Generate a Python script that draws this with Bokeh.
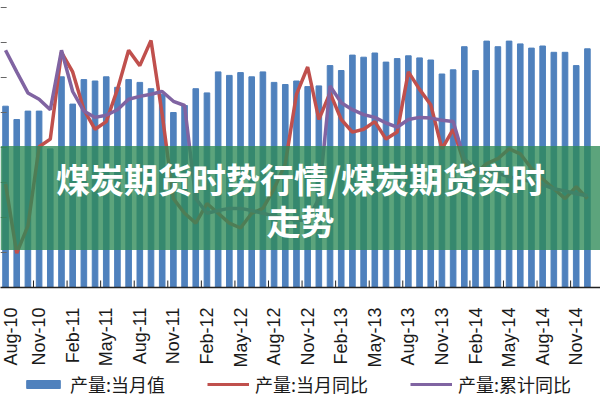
import math
from bokeh.plotting import figure
from bokeh.layouts import column
from bokeh.models import (Range1d, FixedTicker, Legend, LegendItem,
                          BoxAnnotation, Label)
from bokeh.embed import file_html
from bokeh.resources import INLINE

months = ["Aug-10", "Sep-10", "Oct-10", "Nov-10", "Dec-10",
          "Jan-11", "Feb-11", "Mar-11", "Apr-11", "May-11", "Jun-11",
          "Jul-11", "Aug-11", "Sep-11", "Oct-11", "Nov-11", "Dec-11",
          "Jan-12", "Feb-12", "Mar-12", "Apr-12", "May-12", "Jun-12",
          "Jul-12", "Aug-12", "Sep-12", "Oct-12", "Nov-12", "Dec-12",
          "Jan-13", "Feb-13", "Mar-13", "Apr-13", "May-13", "Jun-13",
          "Jul-13", "Aug-13", "Sep-13", "Oct-13", "Nov-13", "Dec-13",
          "Jan-14", "Feb-14", "Mar-14", "Apr-14", "May-14", "Jun-14",
          "Jul-14", "Aug-14", "Sep-14", "Oct-14", "Nov-14", "Dec-14"]

# 产量:当月值 (万吨)
output_month = [25900, 24000, 25200, 25200, 19800, 30100, 26200, 29700, 29500, 30100,
                28600, 29700, 29300, 28400, 27600, 25000, 26000, 28400, 27800, 30800,
                30300, 30700, 30100, 30800, 29300, 29000, 29500, 28700, 28800, 31700,
                31000, 33200, 32900, 33500, 32200, 32700, 33100, 32800, 32500, 30500,
                31100, 34400, 31000, 35200, 34400, 35200, 34800, 34200, 34500, 33600,
                33600, 31700, 34100]

# 产量:当月同比 (%)
yoy_month = [-5.2, -15.1, -11.2, 0.1, 1.2, 13.6, 10.8, 5.4, 2.6, 3.7,
             8.3, 13.9, 11.7, 15.3, 4.7, -7.3, -9.4, -10.8, -8.0, -9.4,
             -10.8, -11.5, -9.4, -8.7, -5.9, -2.3, 7.6, 11.5, 4.0, 7.8,
             4.0, 2.2, 2.6, 3.7, 1.2, 2.2, 10.8, 8.3, 6.1, -0.2,
             2.6, -2.3, -3.7, -2.3, -1.6, -0.2, -0.9, -3.0, -4.5, -5.9,
             -7.3, -5.6, -7.3]

# 产量:累计同比 (%)
yoy_cum = [13.9, 10.8, 7.8, 6.9, 5.4, 13.9, 8.0, 5.2, 4.3, 4.6,
           5.4, 6.9, 7.3, 7.6, 8.0, 6.6, 6.0, -7.3, -9.4, -9.0,
           -8.7, -8.7, -9.0, -9.4, -9.8, -10.1, -10.4, -10.4, -7.3, 8.8,
           6.4, 5.4, 4.7, 4.3, 3.5, 2.9, 4.0, 4.3, 4.2, 3.9,
           3.7, -1.6, -3.0, -3.3, -3.7, -4.2, -4.5, -4.9, -5.3, -5.9,
           -6.2, -6.6, -6.9]

# left-axis tick values (labels cropped away in the reference)
y_ticks = [0, 5000, 10000, 15000, 20000, 25000, 30000, 35000, 40000]

series_names = ["产量:当月值", "产量:当月同比", "产量:累计同比"]
title_lines = ["煤炭期货时势行情/煤炭期货实时", "走势"]
colors = ["#4F81BD", "#C0504D", "#8064A2"]

x = list(range(len(months)))
label_ticks = list(range(0, len(months), 3))

X0, X1 = -0.45, 53.17

# ---- main chart ----
p = figure(width=600, height=370,
           x_range=Range1d(X0, X1),
           y_range=Range1d(0, 41000),
           output_backend="svg", toolbar_location=None,
           min_border_left=0, min_border_right=0,
           min_border_top=0, min_border_bottom=80)
p.extra_y_ranges = {"pct": Range1d(-20, 21)}
p.outline_line_color = None
p.xgrid.grid_line_color = None
p.ygrid.grid_line_color = None
p.background_fill_color = "white"
p.border_fill_color = "white"

p.vbar(x=x, top=output_month, width=0.5, color=colors[0])
p.line(x, yoy_month, y_range_name="pct", line_color=colors[1], line_width=3.5)
p.line(x, yoy_cum, y_range_name="pct", line_color=colors[2], line_width=3.5)

# category-boundary tick marks on the x axis
bx = [t - 0.5 for t in label_ticks if t > 0]
p.segment(x0=bx, y0=[0] * len(bx), x1=bx, y1=[1000] * len(bx),
          line_color="#222222", line_width=1)
# left-edge value tick marks
p.segment(x0=[X0] * len(y_ticks), y0=y_ticks, x1=[X0 + 0.55] * len(y_ticks), y1=y_ticks,
          line_color="#666666", line_width=1)

# x axis
p.xaxis.ticker = FixedTicker(ticks=label_ticks)
p.xaxis.major_label_overrides = {t: months[t] for t in label_ticks}
p.xaxis.major_label_orientation = math.pi / 2
p.xaxis.major_tick_line_color = None
p.xaxis.major_tick_out = 0
p.xaxis.major_tick_in = 0
p.xaxis.minor_tick_line_color = None
p.xaxis.major_label_standoff = 20
p.xaxis.major_label_text_font = "Liberation Sans"
p.xaxis.major_label_text_font_size = "18px"
p.xaxis.major_label_text_color = "#1a1a1a"
p.xaxis.axis_line_color = "#222222"
p.xaxis.axis_line_width = 1.5

p.yaxis.visible = False

# overlay banner
p.add_layout(BoxAnnotation(bottom=5370, top=20220, fill_color="#2E8B57",
                           fill_alpha=0.78, line_color=None))
p.add_layout(Label(x=26.36, y=15550, text=title_lines[0], text_align="center",
                   text_baseline="middle", text_color="white",
                   text_font="Noto Sans CJK SC", text_font_style="bold",
                   text_font_size="34px"))
p.add_layout(Label(x=26.36, y=9610, text=title_lines[1], text_align="center",
                   text_baseline="middle", text_color="white",
                   text_font="Noto Sans CJK SC", text_font_style="bold",
                   text_font_size="34px"))

# ---- legend strip ----
lg = figure(width=600, height=30, x_range=Range1d(0, 1), y_range=Range1d(0, 1),
            output_backend="svg", toolbar_location=None,
            min_border_left=0, min_border_right=0,
            min_border_top=0, min_border_bottom=0)
lg.outline_line_color = None
lg.xaxis.visible = False
lg.yaxis.visible = False
lg.xgrid.grid_line_color = None
lg.ygrid.grid_line_color = None
# key renderers: one point each, kept outside the strip's visible range
k_bar = lg.vbar(x=[-5], top=[-5], width=0.5, color=colors[0])
k_m = lg.line(x=[-6, -5], y=[-5, -5], line_color=colors[1], line_width=3)
k_c = lg.line(x=[-6, -5], y=[-5, -5], line_color=colors[2], line_width=3)
legend = Legend(items=[LegendItem(label=series_names[0], renderers=[k_bar]),
                       LegendItem(label=series_names[1], renderers=[k_m]),
                       LegendItem(label=series_names[2], renderers=[k_c])],
                orientation="horizontal", location=(22, 3),
                label_text_font="Noto Sans CJK SC", label_text_font_size="18px",
                label_text_color="#1a1a1a",
                glyph_width=42, glyph_height=10, label_height=24,
                spacing=42, label_standoff=6, padding=0, margin=0,
                border_line_color=None, background_fill_alpha=0)
lg.add_layout(legend)

open("out.html", "w").write(file_html(column(p, lg), INLINE))
